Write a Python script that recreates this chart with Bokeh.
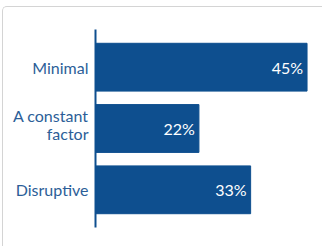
from bokeh.plotting import figure
from bokeh.models import ColumnDataSource, Label, Range1d, FixedTicker
from bokeh.core.properties import value
from bokeh.embed import file_html
from bokeh.resources import INLINE

categories = ["Minimal", "A constant factor", "Disruptive"]
category_lines = [["Minimal"], ["A constant", "factor"], ["Disruptive"]]
values = [45, 22, 33]
value_labels = ["45%", "22%", "33%"]
total_text = "Total Results: 55"

BAR = "#0e4f8f"
LABEL = "#2c5e98"
FONT = "Lato"

n = len(categories)
ypos = [n - 1 - i for i in range(n)]  # top-to-bottom order
source = ColumnDataSource(dict(y=ypos, val=values, lab=value_labels))

p = figure(
    width=320, height=240,
    y_range=Range1d(-0.5 - 0.115, n - 0.5 + 0.115),
    x_range=Range1d(0, 48.5),
    output_backend="svg", toolbar_location=None,
    min_border_left=92, min_border_right=0, min_border_top=22, min_border_bottom=20,
)
p.styles = {"border-left": "1px solid #d4d4d4", "border-top": "1px solid #d4d4d4",
            "border-top-left-radius": "5px", "margin-left": "2px", "margin-top": "6px"}
p.outline_line_color = None
p.background_fill_color = "white"
p.grid.visible = False
p.xaxis.visible = False

p.hbar(y="y", right="val", left=0, height=0.78, source=source,
       fill_color=BAR, line_color=BAR)

p.text(x="val", y="y", text="lab", source=source, x_offset=-4,
       text_align="right", text_baseline="middle", text_color="white",
       text_font=value(FONT), text_font_size="16px")

# category labels as ticks of the y axis, two-line label split into two ticks
LINE_STEP = 0.294   # spacing between wrapped lines, in category units
WRAP_SHIFT = 0.07   # wrapped labels sit a little above the bar centre
ticks, overrides = [], {}
for yc, lines in zip(ypos, category_lines):
    k = len(lines)
    shift = WRAP_SHIFT if k > 1 else 0.0
    for j, line in enumerate(lines):
        t = yc + shift + ((k - 1) / 2 - j) * LINE_STEP
        ticks.append(t)
        overrides[t] = line

ya = p.yaxis[0]
ya.ticker = FixedTicker(ticks=ticks, minor_ticks=[])
ya.major_label_overrides = overrides
ya.axis_line_color = BAR
ya.axis_line_width = 2
ya.major_tick_line_color = None
ya.minor_tick_line_color = None
ya.major_tick_out = 0
ya.major_tick_in = 0
ya.major_label_standoff = 7
ya.major_label_text_color = LABEL
ya.major_label_text_font = FONT
ya.major_label_text_font_size = "16px"

p.add_layout(Label(x=219, y=-17, x_units="screen", y_units="screen", text=total_text,
                   text_align="right", text_font=FONT, text_font_size="4.5px",
                   text_color=LABEL))

open("out.html", "w").write(file_html(p, INLINE))
